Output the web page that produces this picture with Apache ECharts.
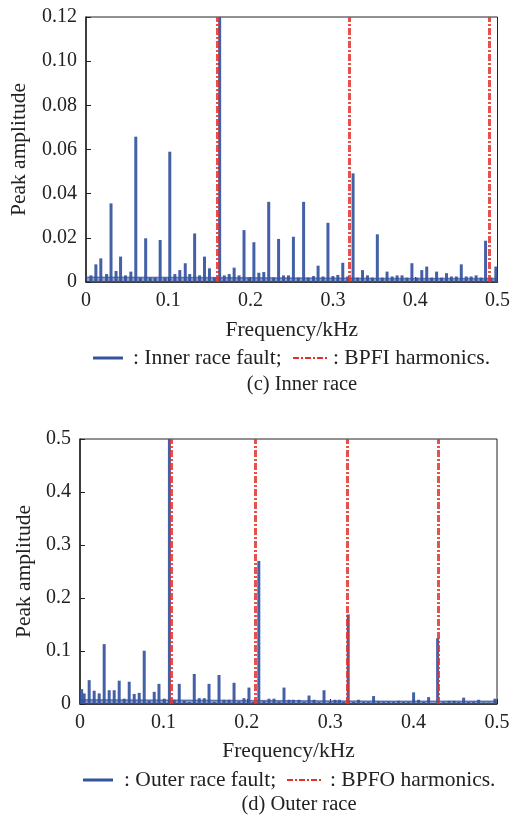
<!DOCTYPE html>
<html>
<head>
<meta charset="utf-8">
<script src="https://cdn.jsdelivr.net/npm/echarts@6/dist/echarts.min.js"></script>
<style>
  html, body { margin: 0; padding: 0; background: #fff; }
  #chart { width: 513px; height: 818px; }
</style>
</head>
<body>
<div id="chart"></div>
<script>
// (c) inner race spectrum: peak frequencies (kHz) and amplitudes
const innerFreq = [0.006, 0.012, 0.018, 0.025, 0.0304, 0.0365, 0.042, 0.048, 0.0545, 0.0605, 0.066, 0.0725, 0.078, 0.084, 0.0901, 0.096,
  0.1018, 0.108, 0.114, 0.1206, 0.126, 0.132, 0.138, 0.144, 0.150, 0.156, 0.1624, 0.168, 0.174, 0.180, 0.186, 0.192, 0.198,
  0.204, 0.210, 0.216, 0.222, 0.228, 0.234, 0.240, 0.246, 0.252, 0.258, 0.2644, 0.270, 0.2764, 0.282, 0.288, 0.294, 0.300,
  0.306, 0.312, 0.318, 0.3245, 0.330, 0.336, 0.342, 0.348, 0.354, 0.360, 0.3658, 0.372, 0.378, 0.384, 0.390, 0.396, 0.402,
  0.408, 0.414, 0.420, 0.426, 0.432, 0.438, 0.444, 0.450, 0.456, 0.462, 0.468, 0.474, 0.480, 0.4855, 0.492, 0.498];
const innerAmp = [0.003, 0.008, 0.0107, 0.0036, 0.0356, 0.005, 0.0115, 0.003, 0.0047, 0.0658, 0.002, 0.0198, 0.002, 0.002, 0.019, 0.002,
  0.059, 0.0036, 0.0054, 0.0085, 0.0036, 0.022, 0.003, 0.0115, 0.0062, 0.002, 0.12, 0.003, 0.0036, 0.0065, 0.003, 0.0235, 0.002,
  0.018, 0.0042, 0.0045, 0.0363, 0.002, 0.0195, 0.003, 0.003, 0.0205, 0.002, 0.0363, 0.002, 0.0027, 0.0074, 0.0025, 0.0268, 0.0027,
  0.0032, 0.0087, 0.0025, 0.0492, 0.002, 0.0054, 0.003, 0.002, 0.0216, 0.002, 0.0047, 0.0025, 0.003, 0.003, 0.002, 0.0085, 0.002,
  0.0054, 0.007, 0.002, 0.0047, 0.002, 0.004, 0.0025, 0.0025, 0.008, 0.0025, 0.0025, 0.003, 0.002, 0.0187, 0.002, 0.007];
const bpfiHarmonics = [0.1624, 0.3248, 0.4872];

// (d) outer race spectrum
const outerFreq = [0.002, 0.005, 0.011, 0.017, 0.023, 0.029, 0.035, 0.041, 0.047, 0.053, 0.059, 0.065, 0.071, 0.077, 0.083, 0.089,
  0.0947, 0.101, 0.1072, 0.113, 0.119, 0.125, 0.131, 0.137, 0.143, 0.149, 0.1547, 0.161, 0.1667, 0.1727, 0.1787, 0.1847,
  0.1906, 0.1966, 0.2026, 0.208, 0.2144, 0.2206, 0.2266, 0.2326, 0.2386, 0.2446, 0.2506, 0.2558, 0.2626, 0.2686, 0.2746,
  0.2806, 0.2866, 0.2926, 0.2998, 0.3058, 0.311, 0.316, 0.3216, 0.328, 0.334, 0.340, 0.346, 0.352, 0.358, 0.364, 0.370,
  0.376, 0.382, 0.388, 0.394, 0.400, 0.406, 0.412, 0.418, 0.4288, 0.436, 0.4425, 0.4485, 0.454, 0.460, 0.466, 0.472, 0.478,
  0.484, 0.490, 0.4975];
const outerAmp = [0.028, 0.020, 0.045, 0.025, 0.020, 0.113, 0.026, 0.026, 0.044, 0.010, 0.042, 0.019, 0.021, 0.1005, 0.006, 0.023,
  0.038, 0.010, 0.5, 0.008, 0.038, 0.006, 0.004, 0.0566, 0.011, 0.011, 0.038, 0.004, 0.0547, 0.008, 0.008, 0.040,
  0.005, 0.011, 0.031, 0.004, 0.27, 0.006, 0.010, 0.010, 0.005, 0.031, 0.008, 0.008, 0.008, 0.004, 0.016,
  0.008, 0.004, 0.026, 0.004, 0.008, 0.008, 0.004, 0.169, 0.004, 0.008, 0.004, 0.004, 0.015, 0.005, 0.004, 0.005,
  0.004, 0.006, 0.004, 0.004, 0.022, 0.008, 0.004, 0.013, 0.124, 0.004, 0.006, 0.006, 0.004, 0.012, 0.004, 0.004, 0.008,
  0.003, 0.003, 0.010];
const bpfoHarmonics = [0.1072, 0.2144, 0.3216, 0.4288];

// noise floor under the peaks
const floorFreq = [0, 0.125, 0.25, 0.375, 0.5];
const innerFloor = [0.0022, 0.002, 0.0018, 0.0016, 0.0016];
const outerFloor = [0.008, 0.007, 0.006, 0.005, 0.005];

const xTicks = [0, 0.1, 0.2, 0.3, 0.4, 0.5];

const FONT = "'Liberation Serif', 'Times New Roman', serif";
const BLUE = '#34539f';
const RED = '#e4312c';
const INK = '#222';

const chart = echarts.init(document.getElementById('chart'));

function xAxisFor(grid) {
  return {
    type: 'value', gridIndex: grid, min: xTicks[0], max: xTicks[xTicks.length - 1], interval: 0.1,
    name: 'Frequency/kHz', nameLocation: 'middle', nameGap: grid === 0 ? 37 : 36,
    nameTextStyle: { fontFamily: FONT, fontSize: 21.5, color: INK },
    axisLine: { onZero: false, lineStyle: { color: INK, width: 1.5 } },
    axisTick: { inside: true, length: 5, lineStyle: { color: INK } },
    axisLabel: { margin: 9, fontFamily: FONT, fontSize: 20, color: INK },
    splitLine: { show: false }
  };
}

function yAxisFor(grid, max, step, gap, fmt) {
  return {
    type: 'value', gridIndex: grid, min: 0, max: max, interval: step,
    name: 'Peak amplitude', nameLocation: 'middle', nameGap: gap,
    nameTextStyle: { fontFamily: FONT, fontSize: 21.5, color: INK },
    axisLine: { show: true, lineStyle: { color: INK, width: 1.5 } },
    axisTick: { show: true, inside: true, length: 5, lineStyle: { color: INK } },
    axisLabel: { margin: 9, fontFamily: FONT, fontSize: 20, color: INK, formatter: fmt },
    splitLine: { show: false }
  };
}

function peaks(freq, amp) {
  return freq.map((f, i) => [f, amp[i]]);
}

function spectrum(grid, freq, amp) {
  return {
    type: 'bar', xAxisIndex: grid, yAxisIndex: grid, barWidth: 3,
    itemStyle: { color: BLUE, opacity: 0.92 },
    data: peaks(freq, amp), silent: true, z: 3
  };
}

function floor(grid, amp) {
  return {
    type: 'line', xAxisIndex: grid, yAxisIndex: grid, showSymbol: false,
    lineStyle: { color: BLUE, width: 1.5, opacity: 0.7 },
    areaStyle: { color: BLUE, opacity: 0.55 },
    data: peaks(floorFreq, amp), silent: true, z: 2
  };
}

function harmonics(grid, list) {
  return {
    type: 'line', xAxisIndex: grid, yAxisIndex: grid, data: [], silent: true, z: 5,
    markLine: {
      symbol: ['none', 'none'], silent: true, animation: false,
      label: { show: false },
      lineStyle: { color: RED, width: 3, type: [7, 2, 2, 2], opacity: 0.85 },
      data: list.map(f => ({ xAxis: f }))
    }
  };
}

function legendRow(y, blueX, textX1, label1, redX, textX2, label2) {
  const txt = { fontFamily: FONT, fontSize: 21.5, fill: INK, verticalAlign: 'middle' };
  return [
    { type: 'line', shape: { x1: blueX, y1: y, x2: blueX + 30, y2: y }, style: { stroke: BLUE, lineWidth: 3 } },
    { type: 'text', x: textX1, y: y, style: Object.assign({ text: label1 }, txt) },
    { type: 'line', shape: { x1: redX, y1: y, x2: redX + 35, y2: y }, style: { stroke: RED, lineWidth: 2, lineDash: [6, 2, 2, 2] } },
    { type: 'text', x: textX2, y: y, style: Object.assign({ text: label2 }, txt) }
  ];
}

function caption(x, y, text) {
  return { type: 'text', x: x, y: y, style: { text: text, fontFamily: FONT, fontSize: 20.5, fill: INK, align: 'center', verticalAlign: 'middle' } };
}

const option = {
  animation: false,
  backgroundColor: '#fff',
  grid: [
    { left: 84, top: 17, width: 416, height: 265, show: true, borderColor: INK, borderWidth: 1, backgroundColor: 'transparent' },
    { left: 80, top: 439, width: 417, height: 265, show: true, borderColor: INK, borderWidth: 1, backgroundColor: 'transparent' }
  ],
  xAxis: [xAxisFor(0), xAxisFor(1)],
  yAxis: [
    yAxisFor(0, 0.12, 0.02, 56, v => (v === 0 ? '0' : v.toFixed(2))),
    yAxisFor(1, 0.5, 0.1, 43, v => (v === 0 ? '0' : v.toFixed(1)))
  ],
  series: [
    floor(0, innerFloor),
    spectrum(0, innerFreq, innerAmp),
    harmonics(0, bpfiHarmonics),
    floor(1, outerFloor),
    spectrum(1, outerFreq, outerAmp),
    harmonics(1, bpfoHarmonics)
  ],
  graphic: [
    ...legendRow(358, 93, 133, ': Inner race fault;', 293, 333, ': BPFI harmonics.'),
    caption(302, 385, '(c) Inner race'),
    ...legendRow(780, 83, 124, ': Outer race fault;', 287, 330, ': BPFO harmonics.'),
    caption(299, 805, '(d) Outer race')
  ]
};

chart.setOption(option);
</script>
</body>
</html>
